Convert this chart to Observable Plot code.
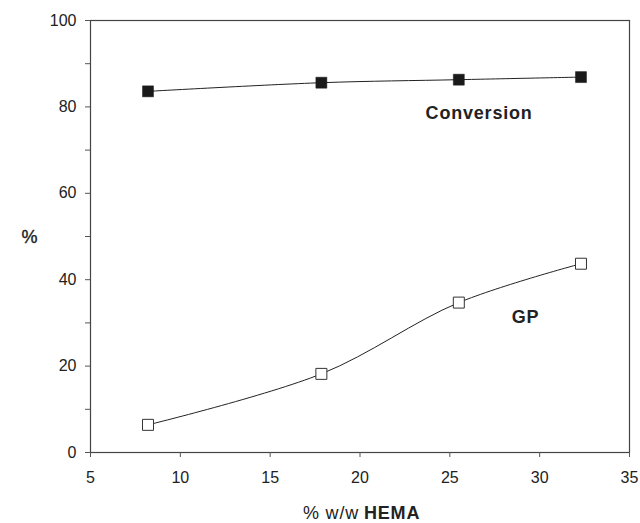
<!DOCTYPE html>
<html>
<head>
<meta charset="utf-8">
<script src="https://cdn.jsdelivr.net/npm/d3@7"></script>
<script src="https://cdn.jsdelivr.net/npm/@observablehq/plot@0.6"></script>
<style>
  body { margin: 0; background: #fff; }
  svg { font-family: "Liberation Sans", Arial, sans-serif; }
  .spaced text, text.spaced, g.spaced { letter-spacing: 0.8px; }
</style>
</head>
<body>
<div id="chart"></div>
<script>
const hema = [8.2, 17.85, 25.5, 32.3];
const conversion = [83.6, 85.6, 86.3, 86.9];
const gp = [6.4, 18.2, 34.7, 43.7];
const xTicks = [5, 10, 15, 20, 25, 30, 35];
const yTicks = [0, 10, 20, 30, 40, 50, 60, 70, 80, 90, 100];

const convData = hema.map((x, i) => ({x, y: conversion[i]}));
const gpData = hema.map((x, i) => ({x, y: gp[i]}));

const chart = Plot.plot({
  width: 640,
  height: 523,
  marginLeft: 90,
  marginRight: 11,
  marginTop: 20,
  marginBottom: 71,
  style: {fontFamily: "'Liberation Sans', Arial, sans-serif", fontSize: "16px", color: "#222"},
  x: {domain: [5, 35]},
  y: {domain: [0, 100]},
  marks: [
    Plot.frame({stroke: "#444", strokeWidth: 1.2}),
    Plot.axisX({ticks: xTicks, tickSize: 5, tickPadding: 14, fontSize: 16, label: null, stroke: "#555"}),
    Plot.axisY({ticks: yTicks, tickSize: 5, tickPadding: 9, fontSize: 16, label: null, stroke: "#555",
      tickFormat: d => d % 20 === 0 ? String(d) : ""}),
    Plot.line(convData, {x: "x", y: "y", curve: "catmull-rom", stroke: "#222", strokeWidth: 1}),
    Plot.line(gpData, {x: "x", y: "y", curve: "catmull-rom", stroke: "#222", strokeWidth: 1}),
    Plot.dot(convData, {x: "x", y: "y", symbol: "square", r: 6.2, fill: "#1a1a1a", stroke: "#1a1a1a", strokeWidth: 0.5}),
    Plot.dot(gpData, {x: "x", y: "y", symbol: "square", r: 6.2, fill: "white", stroke: "#333", strokeWidth: 1}),
    Plot.text(["Conversion"], {x: 23.65, y: 78.5, text: d => d, fontWeight: "bold", fontSize: 18, className: "spaced", textAnchor: "start", fill: "#222"}),
    Plot.text(["GP"], {x: 28.45, y: 31.2, text: d => d, fontWeight: "bold", fontSize: 18, className: "spaced", textAnchor: "start", fill: "#222"}),
    Plot.text(["% w/w"], {frameAnchor: "bottom", dx: -1, dy: 66, text: d => d, fontSize: 18, className: "spaced", textAnchor: "end", fill: "#222"}),
    Plot.text(["HEMA"], {frameAnchor: "bottom", dx: 4, dy: 66, text: d => d, fontSize: 18, fontWeight: "bold", className: "spaced", textAnchor: "start", fill: "#222"}),
    Plot.text(["%"], {frameAnchor: "left", dx: -69, dy: 1, text: d => d, fontSize: 18, fill: "#222", stroke: "#222", strokeWidth: 0.4})
  ]
});
document.getElementById("chart").appendChild(chart);
</script>
</body>
</html>
